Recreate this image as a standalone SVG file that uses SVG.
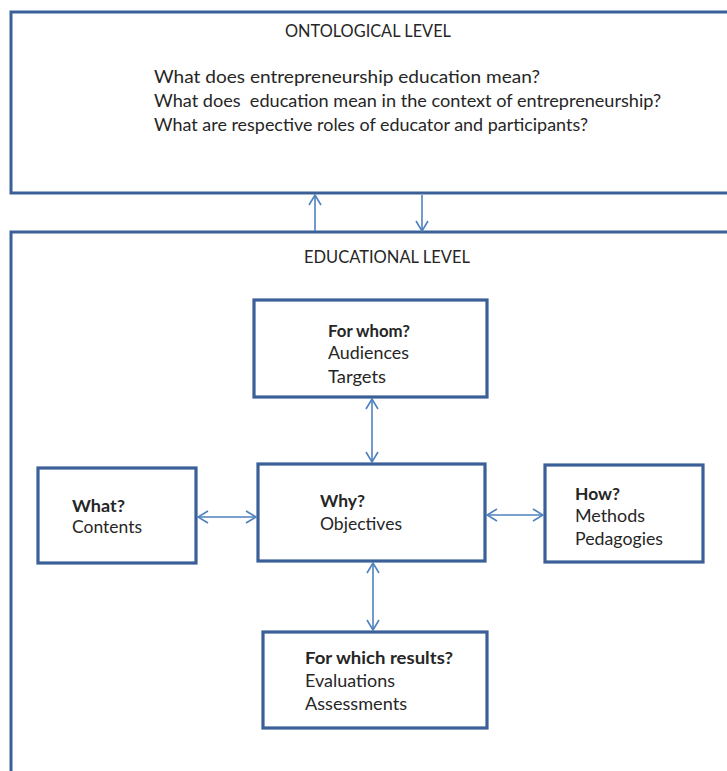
<svg xmlns="http://www.w3.org/2000/svg" width="727" height="771" viewBox="0 0 727 771">
  <style>
    .frame { fill: #ffffff; stroke: #3b6097; stroke-width: 3; }
    .box { fill: #ffffff; stroke: #3b6097; stroke-width: 3.2; }
    .link { fill: none; stroke: #4f81bd; stroke-width: 1.6; }
    text { font-family: "Lato", "Noto Sans", "Liberation Sans", sans-serif; font-size: 17px; fill: #262626; }
    .b { font-weight: bold; }
  </style>
  <defs>
    <marker id="head" viewBox="0 0 12 14" refX="11" refY="7" markerWidth="12" markerHeight="14" markerUnits="userSpaceOnUse" orient="auto-start-reverse">
      <path d="M1,1 L11,7 L1,13" fill="none" stroke="#4f81bd" stroke-width="1.6"/>
    </marker>
  </defs>

  <rect width="727" height="771" fill="#ffffff"/>

  <!-- ontological level frame -->
  <g id="ontological">
    <rect class="frame" x="11" y="12" width="730" height="181"/>
    <text x="285" y="37" textLength="166" lengthAdjust="spacingAndGlyphs">ONTOLOGICAL LEVEL</text>
    <text x="154" y="83" textLength="386" lengthAdjust="spacingAndGlyphs">What does entrepreneurship education mean?</text>
    <text x="154" y="107" textLength="507" lengthAdjust="spacingAndGlyphs" xml:space="preserve">What does  education mean in the context of entrepreneurship?</text>
    <text x="154" y="131" textLength="434" lengthAdjust="spacingAndGlyphs">What are respective roles of educator and participants?</text>
  </g>

  <!-- educational level frame -->
  <g id="educational">
    <rect class="frame" x="11" y="232" width="730" height="560"/>
    <text x="304" y="263" textLength="166" lengthAdjust="spacingAndGlyphs">EDUCATIONAL LEVEL</text>
  </g>

  <g id="for-whom">
    <rect class="box" x="254" y="300" width="233" height="97"/>
    <text class="b" x="328" y="337" textLength="82" lengthAdjust="spacingAndGlyphs">For whom?</text>
    <text x="328" y="359" textLength="81" lengthAdjust="spacingAndGlyphs">Audiences</text>
    <text x="328" y="383" textLength="58" lengthAdjust="spacingAndGlyphs">Targets</text>
  </g>

  <g id="what">
    <rect class="box" x="38" y="468" width="158" height="95"/>
    <text class="b" x="72" y="512" textLength="53" lengthAdjust="spacingAndGlyphs">What?</text>
    <text x="72" y="533" textLength="70" lengthAdjust="spacingAndGlyphs">Contents</text>
  </g>

  <g id="why">
    <rect class="box" x="258" y="464" width="227" height="97"/>
    <text class="b" x="320" y="507" textLength="45" lengthAdjust="spacingAndGlyphs">Why?</text>
    <text x="320" y="530" textLength="82" lengthAdjust="spacingAndGlyphs">Objectives</text>
  </g>

  <g id="how">
    <rect class="box" x="545" y="465" width="158" height="97"/>
    <text class="b" x="575" y="500" textLength="45" lengthAdjust="spacingAndGlyphs">How?</text>
    <text x="575" y="522" textLength="70" lengthAdjust="spacingAndGlyphs">Methods</text>
    <text x="575" y="545" textLength="88" lengthAdjust="spacingAndGlyphs">Pedagogies</text>
  </g>

  <g id="for-which-results">
    <rect class="box" x="263" y="632" width="224" height="96"/>
    <text class="b" x="305" y="664" textLength="148" lengthAdjust="spacingAndGlyphs">For which results?</text>
    <text x="305" y="687" textLength="90" lengthAdjust="spacingAndGlyphs">Evaluations</text>
    <text x="305" y="710" textLength="102" lengthAdjust="spacingAndGlyphs">Assessments</text>
  </g>

  <!-- connectors -->
  <g id="connectors">
    <line class="link" x1="315" y1="231" x2="315" y2="195" marker-end="url(#head)"/>
    <line class="link" x1="422" y1="195" x2="422" y2="231" marker-end="url(#head)"/>
    <line class="link" x1="372" y1="399" x2="372" y2="462" marker-start="url(#head)" marker-end="url(#head)"/>
    <line class="link" x1="198" y1="517" x2="256" y2="517" marker-start="url(#head)" marker-end="url(#head)"/>
    <line class="link" x1="487" y1="515" x2="543" y2="515" marker-start="url(#head)" marker-end="url(#head)"/>
    <line class="link" x1="373" y1="563" x2="373" y2="630" marker-start="url(#head)" marker-end="url(#head)"/>
  </g>
</svg>
